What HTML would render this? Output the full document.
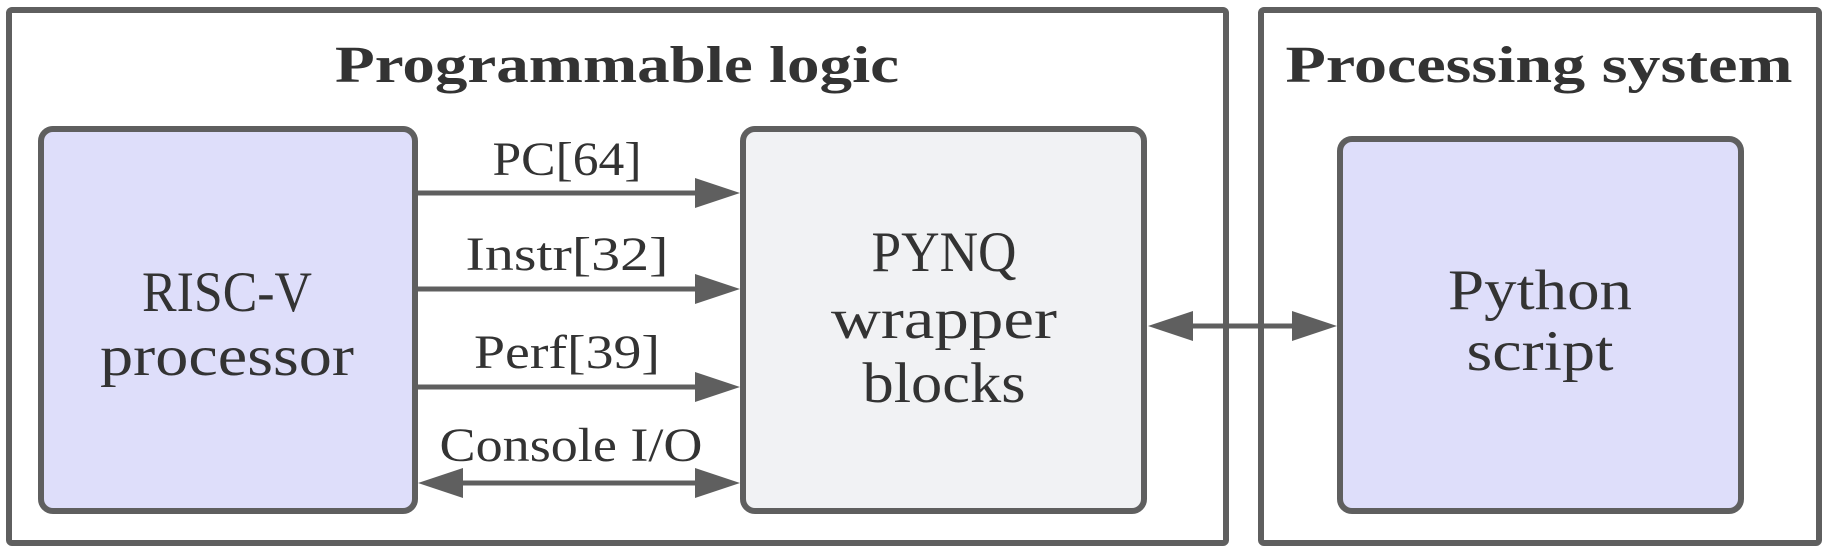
<!DOCTYPE html>
<html><head><meta charset="utf-8"><style>html,body{margin:0;padding:0;background:#fff}svg{display:block}</style></head>
<body>
<svg width="1827" height="551" viewBox="0 0 1827 551" xmlns="http://www.w3.org/2000/svg">
<g fill="none" stroke="#5f5f5f" stroke-width="6">
<rect x="9" y="10" width="1217" height="533" rx="3"/>
<rect x="1261" y="10" width="558" height="533" rx="3"/>
<rect x="41" y="129" width="374" height="382" rx="12" fill="#dedefa"/>
<rect x="743" y="129" width="401" height="382" rx="12" fill="#f1f2f4"/>
<rect x="1340" y="139" width="401" height="372" rx="12" fill="#dedefa"/>
</g>
<g stroke="#5f5f5f" stroke-width="5">
<line x1="418" y1="193" x2="700" y2="193"/>
<line x1="418" y1="289" x2="700" y2="289"/>
<line x1="418" y1="387" x2="700" y2="387"/>
<line x1="460" y1="483" x2="700" y2="483"/>
<line x1="1190" y1="326" x2="1295" y2="326"/>
</g>
<g fill="#5f5f5f">
<polygon points="740,193 695,178 695,208"/>
<polygon points="740,289 695,274 695,304"/>
<polygon points="740,387 695,372 695,402"/>
<polygon points="740,483 695,468 695,498"/>
<polygon points="418,483 463,468 463,498"/>
<polygon points="1148,326 1193,311 1193,341"/>
<polygon points="1337,326 1292,311 1292,341"/>
</g>
<g font-family="'Liberation Serif', serif" fill="#333" text-anchor="middle">
<text x="617" y="82" font-size="52" font-weight="bold" textLength="564" lengthAdjust="spacingAndGlyphs">Programmable logic</text>
<text x="1539" y="82" font-size="52" font-weight="bold" textLength="507" lengthAdjust="spacingAndGlyphs">Processing system</text>
<text x="227" y="311" font-size="57" textLength="170" lengthAdjust="spacingAndGlyphs">RISC-V</text>
<text x="227" y="375" font-size="57" textLength="254" lengthAdjust="spacingAndGlyphs">processor</text>
<text x="944" y="271" font-size="57" textLength="145" lengthAdjust="spacingAndGlyphs">PYNQ</text>
<text x="944" y="338" font-size="57" textLength="226" lengthAdjust="spacingAndGlyphs">wrapper</text>
<text x="944" y="402" font-size="57" textLength="163" lengthAdjust="spacingAndGlyphs">blocks</text>
<text x="1540" y="309" font-size="57" textLength="184" lengthAdjust="spacingAndGlyphs">Python</text>
<text x="1540" y="370" font-size="57" textLength="147" lengthAdjust="spacingAndGlyphs">script</text>
<text x="567" y="175" font-size="48" textLength="149" lengthAdjust="spacingAndGlyphs">PC[64]</text>
<text x="567" y="270" font-size="48" textLength="203" lengthAdjust="spacingAndGlyphs">Instr[32]</text>
<text x="567" y="368" font-size="48" textLength="186" lengthAdjust="spacingAndGlyphs">Perf[39]</text>
<text x="571" y="461" font-size="48" textLength="263" lengthAdjust="spacingAndGlyphs">Console I/O</text>
</g>
</svg>
</body></html>
